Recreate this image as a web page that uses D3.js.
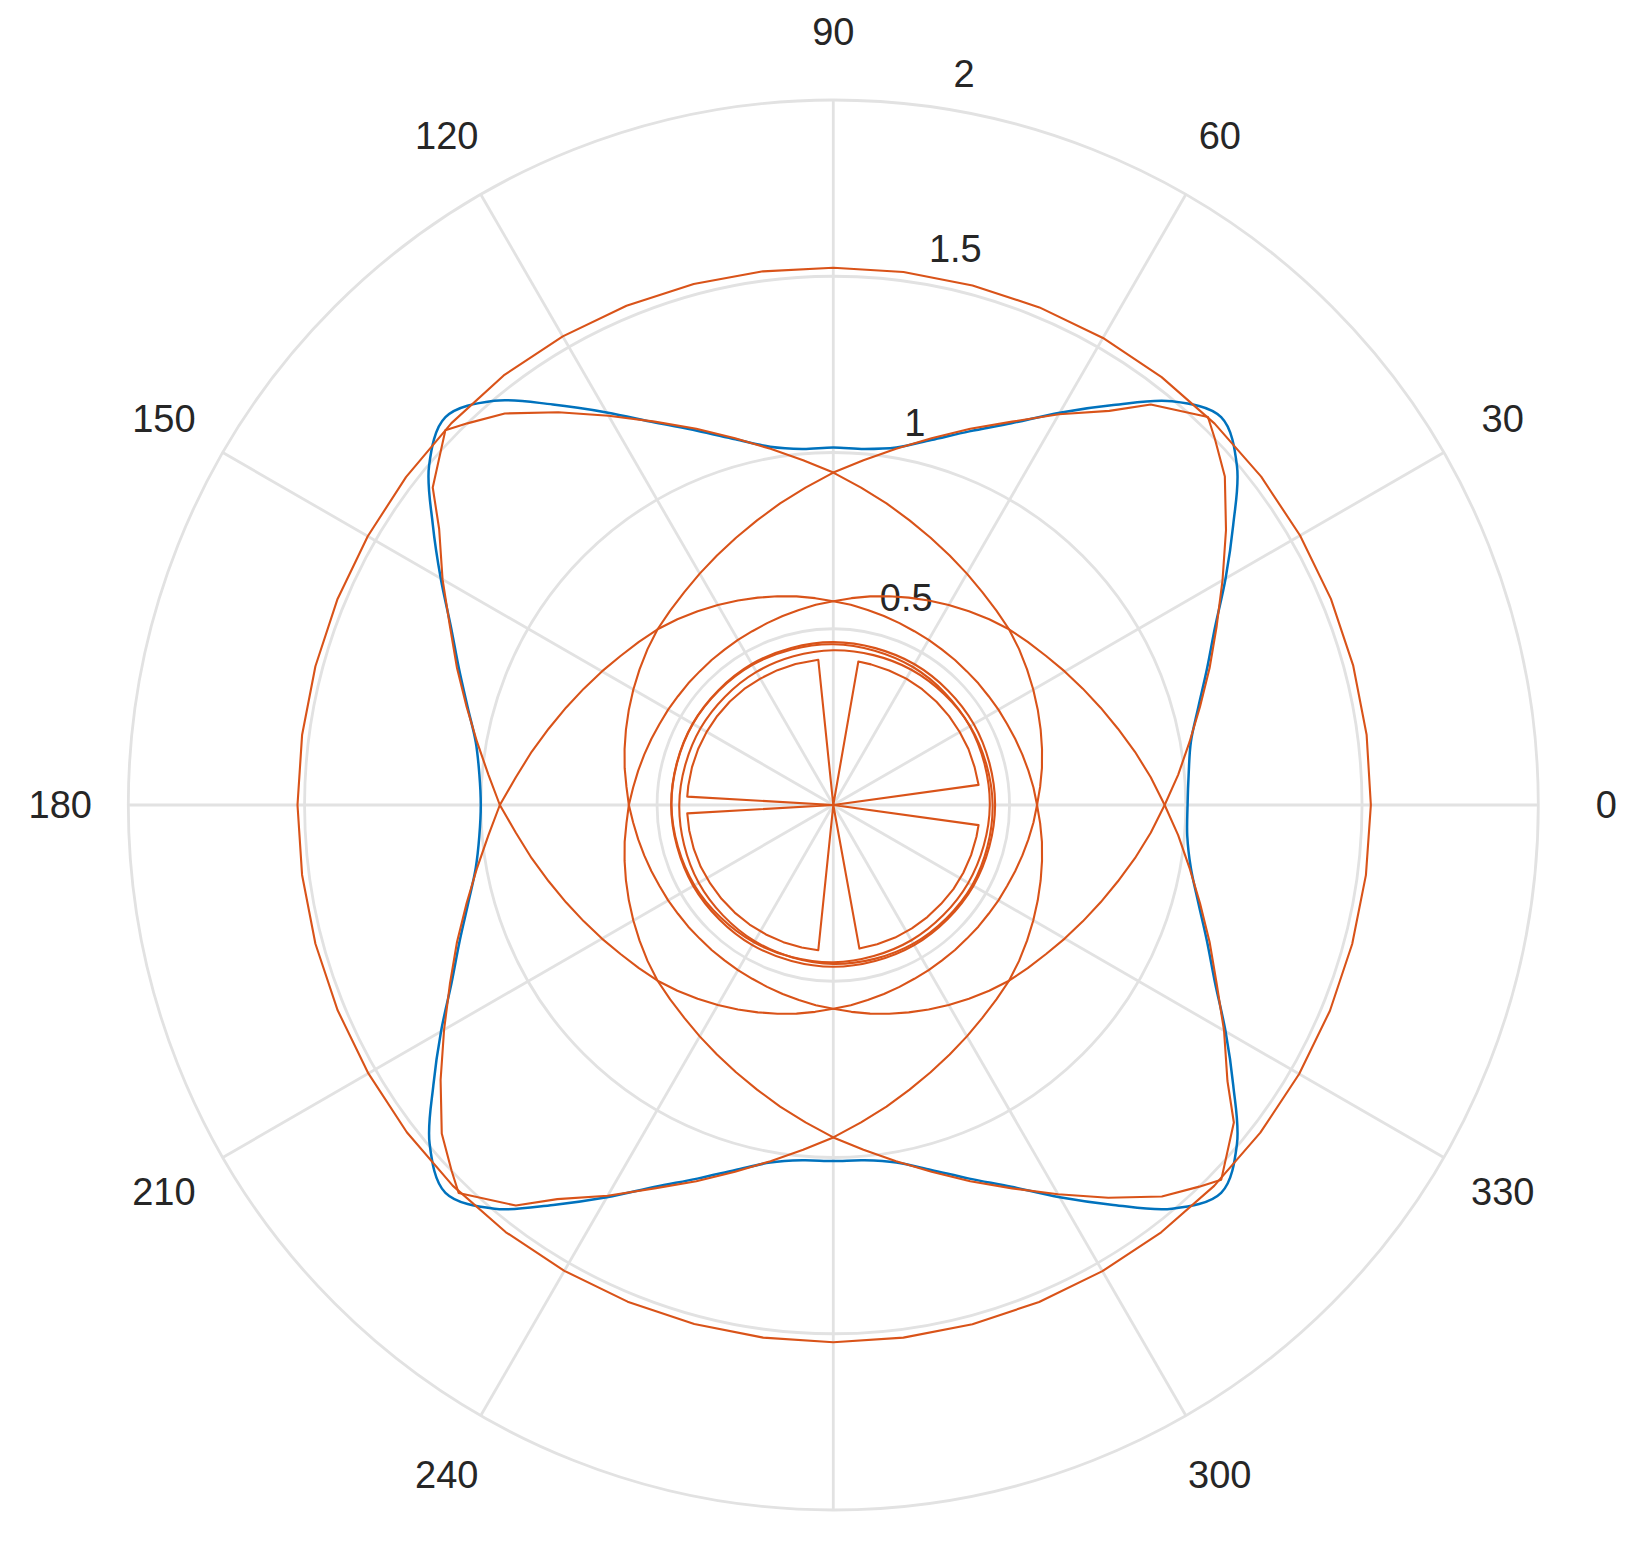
<!DOCTYPE html>
<html>
<head>
<meta charset="utf-8">
<script src="https://cdn.jsdelivr.net/npm/d3@7"></script>
<style>
  body { margin: 0; background: #fff; }
  text { font-family: "Liberation Sans", Arial, Helvetica, sans-serif; }
</style>
</head>
<body>
<div id="chart"></div>
<script>
// axis ticks (270 label falls below the figure edge, as in the original)
var thetaTicks = [0, 30, 60, 90, 120, 150, 180, 210, 240, 270, 300, 330];
var thetaLabelTicks = [0, 30, 60, 90, 120, 150, 180, 210, 240, 300, 330];
var rhoTicks = [0.5, 1, 1.5, 2];
var rhoTickLabels = ["0.5", "1", "1.5", "2"];

// sample angles (deg)
var angles5 = [0,5,10,15,20,25,30,35,40,45,50,55,60,65,70,75,80,85,
  90,95,100,105,110,115,120,125,130,135,140,145,150,155,160,165,170,175,
  180,185,190,195,200,205,210,215,220,225,230,235,240,245,250,255,260,265,
  270,275,280,285,290,295,300,305,310,315,320,325,330,335,340,345,350,355];

// blue series
var blueRho = [1.005,1.012,1.03,1.072,1.128,1.195,1.285,1.385,1.495,1.556,1.495,1.385,1.285,1.195,1.128,1.072,1.03,1.014,
  1.014,1.014,1.032,1.074,1.13,1.197,1.286,1.387,1.497,1.556,1.497,1.387,1.286,1.197,1.13,1.074,1.03,1.008,
  1.0,1.008,1.03,1.072,1.128,1.195,1.285,1.385,1.495,1.556,1.495,1.385,1.285,1.195,1.128,1.072,1.03,1.012,
  1.01,1.012,1.03,1.072,1.128,1.195,1.285,1.385,1.495,1.556,1.495,1.385,1.285,1.195,1.128,1.072,1.03,1.008];

// red series, read piece by piece
var redOuterTheta = [0,7.5,15,22.5,30,37.5,45,52.5,60,67.5,75,82.5,90,97.5,105,112.5,120,127.5,135,142.5,150,157.5,165,172.5,
  180,187.5,195,202.5,210,217.5,225,232.5,240,247.5,255,262.5,270,277.5,285,292.5,300,307.5,315,322.5,330,337.5,345,352.5];
var redOuterRho = [1.525,1.526,1.527,1.528,1.529,1.53,1.53,1.53,1.53,1.528,1.526,1.525,1.524,1.527,1.53,1.533,1.535,1.536,1.532,1.528,1.525,1.523,1.521,1.52,
  1.52,1.52,1.521,1.522,1.523,1.525,1.527,1.527,1.526,1.525,1.524,1.524,1.524,1.524,1.525,1.526,1.527,1.528,1.528,1.527,1.526,1.525,1.524,1.524];

// lens with points toward 45 / 225 deg
var redLensATheta = [0,5,10,15,20,25,30,35,40,43.8,46,51.6,55,60,65,70,75,80,85,
  90,95,100,105,110,115,120,125,130,135,140,145,150,155,160,165,170,175,
  180,185,190,195,200,205,210,215,220,223.8,226,231.6,235,240,245,250,255,260,265,
  270,275,280,285,290,295,300,305,310,315,320,325,330,335,340,345,350,355];
var redLensARho = [0.94,0.982,1.026,1.077,1.136,1.2,1.275,1.36,1.45,1.5,1.53,1.45,1.365,1.28,1.2,1.136,1.077,1.026,0.982,
  0.943,0.904,0.869,0.836,0.807,0.781,0.758,0.737,0.72,0.705,0.72,0.737,0.758,0.781,0.807,0.836,0.869,0.904,
  0.946,0.982,1.026,1.077,1.136,1.2,1.275,1.36,1.45,1.5,1.53,1.45,1.365,1.28,1.2,1.136,1.077,1.026,0.982,
  0.943,0.904,0.869,0.836,0.807,0.781,0.758,0.737,0.72,0.705,0.72,0.737,0.758,0.781,0.807,0.836,0.869,0.904];

// lens with points toward 135 / 315 deg
var redLensBTheta = [0,5,10,15,20,25,30,35,40,45,50,55,60,65,70,75,80,85,
  90,95,100,105,110,115,120,125,130,133.8,136,141.6,145,150,155,160,165,170,175,
  180,185,190,195,200,205,210,215,220,225,230,235,240,245,250,255,260,265,
  270,275,280,285,290,295,300,305,310,313.8,316,321.6,325,330,335,340,345,350,355];
var redLensBRho = [0.94,0.904,0.869,0.836,0.807,0.781,0.758,0.737,0.72,0.705,0.72,0.737,0.758,0.781,0.807,0.836,0.869,0.904,
  0.943,0.982,1.026,1.077,1.136,1.2,1.275,1.36,1.45,1.5,1.53,1.45,1.365,1.28,1.2,1.136,1.077,1.026,0.982,
  0.946,0.904,0.869,0.836,0.807,0.781,0.758,0.737,0.72,0.705,0.72,0.737,0.758,0.781,0.807,0.836,0.869,0.904,
  0.943,0.982,1.026,1.077,1.136,1.2,1.275,1.36,1.45,1.5,1.53,1.45,1.365,1.28,1.2,1.136,1.077,1.026,0.982];

// inner ovals
var redOvalARho = [0.578,0.589,0.601,0.613,0.626,0.64,0.655,0.671,0.688,0.705,0.688,0.671,0.655,0.64,0.626,0.613,0.601,0.589,
  0.578,0.57,0.562,0.555,0.549,0.544,0.541,0.538,0.537,0.536,0.537,0.538,0.541,0.544,0.549,0.555,0.562,0.57,
  0.58,0.589,0.601,0.613,0.626,0.64,0.655,0.671,0.688,0.705,0.688,0.671,0.655,0.64,0.626,0.613,0.601,0.589,
  0.578,0.57,0.562,0.555,0.549,0.544,0.541,0.538,0.537,0.536,0.537,0.538,0.541,0.544,0.549,0.555,0.562,0.57];
var redOvalBRho = [0.578,0.57,0.562,0.555,0.549,0.544,0.541,0.538,0.537,0.536,0.537,0.538,0.541,0.544,0.549,0.555,0.562,0.57,
  0.578,0.589,0.601,0.613,0.626,0.64,0.655,0.671,0.688,0.705,0.688,0.671,0.655,0.64,0.626,0.613,0.601,0.589,
  0.58,0.57,0.562,0.555,0.549,0.544,0.541,0.538,0.537,0.536,0.537,0.538,0.541,0.544,0.549,0.555,0.562,0.57,
  0.578,0.589,0.601,0.613,0.626,0.64,0.655,0.671,0.688,0.705,0.688,0.671,0.655,0.64,0.626,0.613,0.601,0.589];

var ringTheta = [0,30,60,90,120,150,180,210,240,270,300,330];
var ringARho = [0.459,0.46,0.461,0.462,0.462,0.461,0.46,0.459,0.459,0.459,0.459,0.459];
var ringBRho = [0.444,0.447,0.452,0.456,0.459,0.46,0.459,0.455,0.45,0.446,0.443,0.442];
var ringCRho = [0.452,0.448,0.443,0.439,0.436,0.435,0.437,0.441,0.446,0.451,0.454,0.455];

var wedgeTheta = [0,7.9,15,22.5,30,37.5,45,52.5,60,67.5,75,80.1,0,
  95.9,105,112.5,120,127.5,135,142.5,150,157.5,165,172.5,176.7,0,
  183.3,190,197.5,205,212.5,220,227.5,235,242.5,250,257.5,264.1,0,
  280.3,287.5,295,302.5,310,317.5,325,332.5,340,347.5,352.1,0];
var wedgeRho = [0,0.416,0.415,0.415,0.414,0.414,0.414,0.414,0.414,0.413,0.413,0.413,0,
  0.414,0.414,0.414,0.414,0.415,0.415,0.415,0.415,0.415,0.415,0.415,0.415,0,
  0.415,0.415,0.415,0.415,0.414,0.414,0.414,0.414,0.414,0.414,0.414,0.414,0,
  0.414,0.414,0.415,0.415,0.415,0.415,0.416,0.416,0.416,0.416,0.416,0];

var width = 1634, height = 1546;
var cx = 833.3, cy = 805;
var gridColor = "#e2e2e2", textColor = "#262626";
var blueColor = "#0072bd", redColor = "#d95319";

var rScale = d3.scaleLinear().domain([0, 2]).range([0, 705]);

// polar degrees (ccw from east) -> d3 radial angle (cw from north)
function toAngle(deg) { return (90 - deg) * Math.PI / 180; }
function px(deg, r) { return rScale(r) * Math.cos(deg * Math.PI / 180); }
function py(deg, r) { return -rScale(r) * Math.sin(deg * Math.PI / 180); }

var svg = d3.select("#chart")
  .append("svg")
  .attr("width", width)
  .attr("height", height)
  .style("background", "#fff");

var g = svg.append("g")
  .attr("transform", "translate(" + cx + "," + cy + ")");

// grid
var grid = g.append("g").attr("class", "grid")
  .attr("fill", "none")
  .attr("stroke", gridColor)
  .attr("stroke-width", 2.8);

grid.selectAll("circle")
  .data(rhoTicks)
  .enter().append("circle")
  .attr("r", function(d) { return rScale(d); });

grid.selectAll("line")
  .data(thetaTicks)
  .enter().append("line")
  .attr("x1", 0).attr("y1", 0)
  .attr("x2", function(d) { return px(d, 2); })
  .attr("y2", function(d) { return py(d, 2); });

// theta labels
g.append("g").selectAll("text")
  .data(thetaLabelTicks)
  .enter().append("text")
  .attr("x", function(d) { return Math.cos(d * Math.PI / 180) * (rScale(2) + 68); })
  .attr("y", function(d) { return -Math.sin(d * Math.PI / 180) * (rScale(2) + 68); })
  .attr("dy", "0.35em")
  .attr("text-anchor", "middle")
  .attr("fill", textColor)
  .style("font-size", "38px")
  .text(function(d) { return d; });

// rho labels along 82 deg
g.append("g").selectAll("text")
  .data(rhoTicks)
  .enter().append("text")
  .attr("x", function(d) { return px(82, d) + 22; })
  .attr("y", function(d) { return py(82, d) - 19.5; })
  .attr("fill", textColor)
  .style("font-size", "38px")
  .text(function(d, i) { return rhoTickLabels[i]; });

var radial = d3.lineRadial()
  .angle(function(d) { return toAngle(d[0]); })
  .radius(function(d) { return rScale(d[1]); });

// blue
g.append("path")
  .datum(d3.zip(angles5, blueRho))
  .attr("fill", "none")
  .attr("stroke", blueColor)
  .attr("stroke-width", 2.5)
  .attr("d", radial.curve(d3.curveCatmullRomClosed));

// red pieces
var red = g.append("g")
  .attr("fill", "none")
  .attr("stroke", redColor)
  .attr("stroke-width", 2.1)
  .attr("stroke-linejoin", "round");

red.append("path")
  .datum(d3.zip(redOuterTheta, redOuterRho))
  .attr("d", radial.curve(d3.curveLinearClosed));

red.append("path")
  .datum(d3.zip(redLensATheta, redLensARho))
  .attr("d", radial.curve(d3.curveLinearClosed));

red.append("path")
  .datum(d3.zip(redLensBTheta, redLensBRho))
  .attr("d", radial.curve(d3.curveLinearClosed));

[redOvalARho, redOvalBRho].forEach(function(rho) {
  red.append("path")
    .datum(d3.zip(angles5, rho))
    .attr("d", radial.curve(d3.curveLinearClosed));
});

[ringARho, ringBRho, ringCRho].forEach(function(rho) {
  red.append("path")
    .datum(d3.zip(ringTheta, rho))
    .attr("d", radial.curve(d3.curveCardinalClosed));
});

red.append("path")
  .datum(d3.zip(wedgeTheta, wedgeRho))
  .attr("d", radial.curve(d3.curveLinear));
</script>
</body>
</html>
